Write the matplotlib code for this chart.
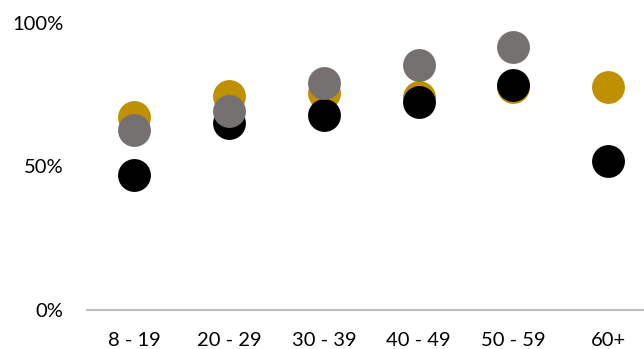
import matplotlib
matplotlib.use("Agg")
import matplotlib.pyplot as plt
from matplotlib.ticker import PercentFormatter

plt.rcParams["font.family"] = ["Lato", "DejaVu Sans"]

age_groups = ["8 - 19", "20 - 29", "30 - 39", "40 - 49", "50 - 59", "60+"]
gold_vals = [67.4, 74.6, 75.6, 74.2, 77.7, 77.8]
black_vals = [47.1, 65.1, 68.0, 72.4, 78.5, 52.0]
gray_vals = [62.7, 69.2, 79.1, 85.5, 91.5]  # no value for 60+

fig = plt.figure(figsize=(6.44, 3.49), dpi=100)
ax = fig.add_axes([0.135, 0.112, 0.883, 0.822])

x = list(range(len(age_groups)))
size = 560
ax.scatter(x, gold_vals, s=size, color="#bf9000", linewidths=0, zorder=2)
ax.scatter(x, black_vals, s=size, color="#000000", linewidths=0, zorder=3)
ax.scatter(x[:len(gray_vals)], gray_vals, s=size, color="#767171", linewidths=0, zorder=4)

ax.set_xlim(-0.5, 5.5)
ax.set_ylim(0, 100)
ax.set_xticks(x)
ax.set_xticklabels(age_groups)
ax.set_yticks([0, 50, 100])
ax.yaxis.set_major_formatter(PercentFormatter(decimals=0))

for side in ["top", "right", "left"]:
    ax.spines[side].set_visible(False)
ax.spines["bottom"].set_color("#bfbfbf")
ax.spines["bottom"].set_linewidth(1.5)
ax.tick_params(axis="both", length=0, labelsize=14.5, colors="#000000")
ax.tick_params(axis="y", pad=17)
ax.tick_params(axis="x", pad=16)

fig.savefig("out.png", dpi=100)
